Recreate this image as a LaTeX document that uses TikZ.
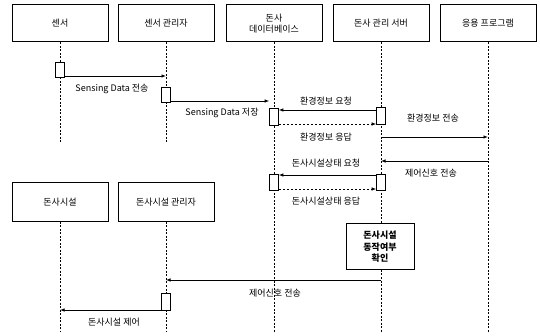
\documentclass[tikz,border=0pt]{standalone}
\usepackage{fontspec}
\setmainfont{Noto Sans CJK KR}
\usetikzlibrary{arrows.meta}
\begin{document}
\begin{tikzpicture}[x=1pt,y=-1pt,
  font=\fontsize{9}{10.5}\selectfont,
  actor/.style={draw,line width=1pt,minimum width=96pt,minimum height=37pt,inner sep=1pt,align=center,fill=white},
  life/.style={line width=0.7pt,dash pattern=on 2pt off 1.5pt},
  actbar/.style={draw,line width=0.7pt,fill=white,minimum width=9pt,inner sep=0pt},
  msg/.style={line width=0.8pt,-{Latex[length=4.5pt,width=3.5pt]}},
  rmsg/.style={msg,dash pattern=on 2.5pt off 1.5pt},
  lbl/.style={inner sep=0pt},
  checkbox/.style={draw,line width=1pt,fill=white,minimum width=68pt,minimum height=46pt,align=center,inner sep=1pt,font=\fontsize{9}{11.5}\selectfont\bfseries}]
\useasboundingbox (0,0) rectangle (540,336);
% top actors
\node[actor] (s)  at (60,23.5)  {센서};
\node[actor] (sm) at (166,23.5) {센서 관리자};
\node[actor] (db) at (274,23.5) {돈사\\데이터베이스};
\node[actor] (sv) at (381,23.5) {돈사 관리 서버};
\node[actor] (ap) at (488,23.5) {응용 프로그램};
% bottom actors
\node[actor,minimum height=39pt] (f)  at (60,202)  {돈사시설};
\node[actor,minimum height=39pt] (fm) at (166,202) {돈사시설 관리자};
% lifeline ends
\coordinate (sE) at (60,143);
\coordinate (smE) at (166,143);
\coordinate (dbE) at (274,332);
\coordinate (svE) at (381,332);
\coordinate (apE) at (488,332);
\coordinate (fE) at (60,332);
\coordinate (fmE) at (166,332);
\draw[life] (s.south) -- (sE);
\draw[life] (sm.south) -- (smE);
\draw[life] (db.south) -- (dbE);
\draw[life] (sv.south) -- (svE);
\draw[life] (ap.south) -- (apE);
\draw[life] (f.south) -- (fE);
\draw[life] (fm.south) -- (fmE);
% activation bars
\node[actbar,minimum height=15pt] (a1) at (60,69.5) {};
\node[actbar,minimum height=15pt] (a2) at (166,94.5) {};
\node[actbar,minimum height=17pt] (a3) at (274,116.5) {};
\node[actbar,minimum height=17pt] (a4) at (381,116) {};
\node[actbar,minimum height=16pt] (a5) at (274,182) {};
\node[actbar,minimum height=16pt] (a6) at (381,182) {};
\node[actbar,minimum height=17pt] (a7) at (166,301.5) {};
% check box
\node[checkbox] (chk) at (380,247) {돈사시설\\동작여부\\확인};
% message end coordinates
\coordinate (m1e) at (166,76);
\coordinate (m5s) at (381,137);
\coordinate (m5e) at (488,137);
\coordinate (m6s) at (488,161);
\coordinate (m6e) at (381,161);
\coordinate (m9s) at (381,280);
\coordinate (m9e) at (166,280);
\coordinate (m10e) at (60,310);
% messages
\draw[msg] (a1.east |- m1e) -- (m1e);
\node[lbl] (l1) at (112,89) {Sensing Data 전송};
\draw[msg] (a2.east |- 0,101) -- (a3.west |- 0,101);
\node[lbl] (l2) at (222,113) {Sensing Data 저장};
\draw[msg] (a4.west |- 0,110) -- (a3.east |- 0,110);
\node[lbl] (l3) at (326,101) {환경정보 요청};
\draw[rmsg] (a3.east |- 0,124) -- (a4.west |- 0,124);
\node[lbl] (l4) at (326,137) {환경정보 응답};
\draw[msg] (m5s) -- (m5e);
\node[lbl] (l5) at (433,118) {환경정보 전송};
\draw[msg] (m6s) -- (m6e);
\node[lbl] (l6) at (431,173) {제어신호 전송};
\draw[msg] (a6.west |- 0,175) -- (a5.east |- 0,175);
\node[lbl] (l7) at (326,163) {돈사시설상태 요청};
\draw[rmsg] (a5.east |- 0,189) -- (a6.west |- 0,189);
\node[lbl] (l8) at (326,201) {돈사시설상태 응답};
\draw[msg] (m9s) -- (m9e);
\node[lbl] (l9) at (275,293) {제어신호 전송};
\draw[msg] (a7.west |- m10e) -- (m10e);
\node[lbl] (l10) at (114,322) {돈사시설 제어};
\end{tikzpicture}
\end{document}
